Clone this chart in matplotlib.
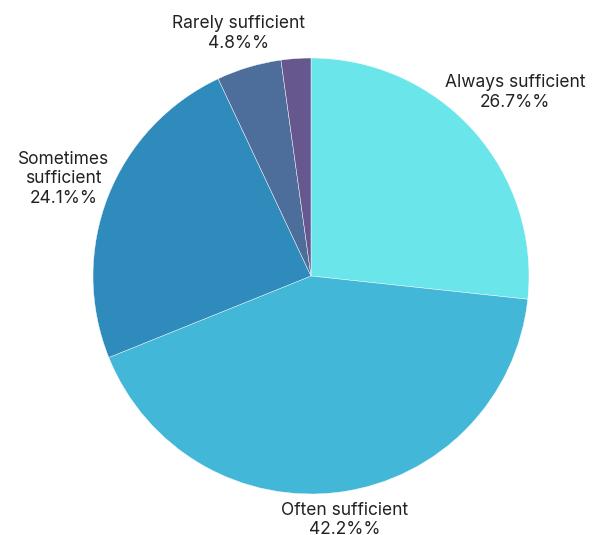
import numpy as np
import matplotlib
matplotlib.use('Agg')
import matplotlib.pyplot as plt

plt.rcParams['font.family'] = ['Inter', 'DejaVu Sans']

labels = ['Always sufficient', 'Often sufficient', 'Sometimes\nsufficient', 'Rarely sufficient', 'Never sufficient']
values = [26.7, 42.2, 24.1, 4.8, 2.2]
colors = ['#6ae5ea', '#42b7d7', '#2e8bbb', '#4d6e9a', '#67578f']
show_label = [True, True, True, True, False]
label_dist = [1.26, 1.13, 1.22, 1.16, 1.2]

fig = plt.figure(figsize=(6.03, 5.35), dpi=100)
ax = fig.add_axes([0, 0, 1, 1])
wedges, _ = ax.pie(values, colors=colors, startangle=90, counterclock=False,
                   wedgeprops=dict(edgecolor='white', linewidth=0.3))

tot = sum(values)
cum = 0
for i, v in enumerate(values):
    mid = (cum + v / 2) / tot * 2 * np.pi
    cum += v
    if not show_label[i]:
        continue
    d = label_dist[i]
    x = d * np.sin(mid)
    y = d * np.cos(mid)
    ax.text(x, y, labels[i] + '\n' + f'{v}%%', ha='center', va='center',
            fontsize=12.5, color='#222222', linespacing=1.2)

s = 218.0
ax.set_xlim(-311 / s, 292 / s)
ax.set_ylim(-(535 - 276) / s, 276 / s)
ax.axis('off')

fig.savefig('out.png', dpi=100)
